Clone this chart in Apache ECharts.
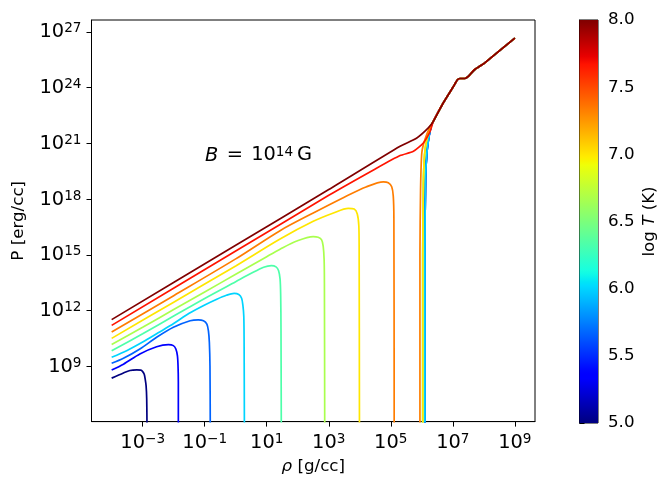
<!DOCTYPE html>
<html><head><meta charset="utf-8">
<script src="https://cdn.jsdelivr.net/npm/echarts@6/dist/echarts.min.js"></script>
<style>html,body{margin:0;padding:0;background:#fff}#c{width:664px;height:482px}</style>
</head><body><div id="c"></div>
<script>
// ---- data (log10 rho [g/cc], log10 P [erg/cc]) ----
const logT = [5.0, 5.333, 5.667, 6.0, 6.333, 6.667, 7.0, 7.333, 7.667, 8.0];

// low-density branches (ending in the vertical drop)
const rho50 = [-4.0, -3.62, -3.41, -3.19, -3.06, -3.0, -2.95, -2.92, -2.89, -2.87, -2.86];
const p50   = [8.36, 8.64, 8.77, 8.80, 8.79, 8.71, 8.57, 8.32, 7.96, 7.25, 5.5];
const rho53 = [-4.0, -3.62, -3.09, -2.55, -2.17, -2.01, -1.93, -1.88, -1.86, -1.85, -1.85];
const p53   = [8.80, 9.11, 9.66, 10.05, 10.16, 10.11, 9.93, 9.57, 9.03, 8.14, 5.5];
const rho57 = [-4.0, -3.62, -3.09, -2.55, -2.01, -1.47, -1.21, -1.04, -0.93, -0.88, -0.85, -0.83, -0.82];
const p57   = [9.16, 9.43, 9.93, 10.56, 11.10, 11.45, 11.50, 11.45, 11.27, 10.91, 10.29, 9.03, 5.5];
const rho60 = [-4.0, -3.5, -3.0, -2.5, -2.0, -1.5, -1.0, -0.61, -0.3, -0.05, 0.1, 0.19, 0.23, 0.26, 0.27, 0.28];
const p60   = [9.48, 9.85, 10.3, 10.8, 11.3, 11.85, 12.3, 12.61, 12.82, 12.92, 12.86, 12.66, 12.3, 11.7, 10.5, 5.5];
const rho63 = [-4.0, -3.0, -2.0, -1.0, 0.0, 0.5, 0.9, 1.15, 1.3, 1.38, 1.43, 1.45, 1.46, 1.47];
const p63   = [9.83, 10.75, 11.7, 12.65, 13.55, 14.0, 14.33, 14.42, 14.35, 14.15, 13.7, 12.8, 11.0, 5.5];
const rho67 = [-4.0, -3.0, -2.0, -1.0, 0.0, 1.0, 1.43, 1.97, 2.5, 2.66, 2.77, 2.82, 2.85, 2.86, 2.87];
const p67   = [10.17, 11.1, 12.05, 13.0, 13.95, 14.9, 15.3, 15.74, 15.98, 15.94, 15.80, 15.47, 14.76, 13.5, 5.5];
const rho70 = [-4.0, -2.0, 0.0, 1.43, 2.5, 3.15, 3.63, 3.82, 3.92, 3.97, 3.98, 3.99];
const p70   = [10.5, 12.45, 14.4, 15.85, 16.8, 17.25, 17.50, 17.46, 17.2, 16.55, 15.3, 5.5];
const rho73 = [-4.0, -2.0, 0.0, 1.43, 2.5, 3.5, 4.2, 4.76, 4.92, 5.03, 5.08, 5.10, 5.11];
const p73   = [10.84, 12.8, 14.78, 16.3, 17.25, 18.1, 18.65, 18.93, 18.88, 18.66, 18.16, 17.0, 5.5];

// high-density rises (before joining the degenerate branch)
const riseRhoCold = [6.10, 6.10, 6.12, 6.16, 6.22, 6.30];
const risePCold   = [5.5, 15.0, 19.0, 20.4, 21.25, 21.9];
const riseRhoMid  = [6.03, 6.03, 6.05, 6.09, 6.16, 6.28];
const risePMid    = [5.5, 15.0, 18.8, 20.4, 21.2, 21.9];
const riseRho73   = [5.94, 5.94, 5.96, 6.0, 6.1, 6.27];
const riseP73     = [5.5, 15.0, 18.5, 20.49, 21.2, 21.91];

// hot isotherms (continuous)
const rho77 = [-4.0, 0.0, 3.0, 4.5, 5.30, 5.73, 6.05, 6.27];
const p77   = [11.2, 15.2, 18.2, 19.62, 20.34, 20.57, 21.02, 21.65];
const rho80 = [-4.0, 0.0, 3.0, 5.30, 5.84, 6.21];
const p80   = [11.51, 15.51, 18.51, 20.84, 21.29, 21.83];

// shared degenerate branch
const degRho = [6.37, 6.69, 7.02, 7.15, 7.23, 7.39, 7.50, 7.61, 7.72, 7.82, 7.93, 8.04, 9.0];
const degP   = [22.18, 23.17, 24.06, 24.42, 24.49, 24.49, 24.60, 24.81, 24.99, 25.10, 25.22, 25.35, 26.66];

const xTicks = [-3, -1, 1, 3, 5, 7, 9];
const yTicks = [9, 12, 15, 18, 21, 24, 27];
const cbRange = [5, 8];

// ---- helpers ----
const F = 'DejaVu Sans';
function seg(t, pts) {
  for (let i = 0; i < pts.length - 1; i++) {
    const [a, va] = pts[i], [b, vb] = pts[i + 1];
    if (t >= a && t <= b) return va + (vb - va) * (t - a) / (b - a);
  }
  return pts[pts.length - 1][1];
}
function jet(t) {
  const r = seg(t, [[0,0],[0.35,0],[0.66,1],[0.89,1],[1,0.5]]);
  const g = seg(t, [[0,0],[0.125,0],[0.375,1],[0.64,1],[0.91,0],[1,0]]);
  const b = seg(t, [[0,0.5],[0.11,1],[0.34,1],[0.65,0],[1,0]]);
  return 'rgb(' + Math.round(r*255) + ',' + Math.round(g*255) + ',' + Math.round(b*255) + ')';
}
const zip = (xs, ys) => xs.map((x, i) => [x, ys[i]]);
const colorOf = lt => jet((lt - cbRange[0]) / (cbRange[1] - cbRange[0]));

const lows = [[rho50,p50],[rho53,p53],[rho57,p57],[rho60,p60],[rho63,p63],[rho67,p67],[rho70,p70],[rho73,p73]];
const rises = [[riseRhoCold,risePCold],[riseRhoCold,risePCold],[riseRhoCold,risePCold],[riseRhoCold,risePCold],
               [riseRhoMid,risePMid],[riseRhoMid,risePMid],[riseRhoMid,risePMid],[riseRho73,riseP73]];
const hots = [[rho77,p77],[rho80,p80]];

const LW = 1.7;
const series = [];
const lineBase = { type: 'line', xAxisIndex: 0, yAxisIndex: 0, symbol: 'none', showSymbol: false,
  clip: true, silent: true, animation: false, z: 3 };
logT.forEach((lt, i) => {
  const c = colorOf(lt);
  if (i < lows.length) {
    series.push(Object.assign({}, lineBase, { smooth: 0.3, data: zip(lows[i][0], lows[i][1]), lineStyle: { color: c, width: LW } }));
    series.push(Object.assign({}, lineBase, { smooth: 0.2, data: zip(rises[i][0].concat(degRho), rises[i][1].concat(degP)), lineStyle: { color: c, width: LW } }));
  } else {
    const h = hots[i - lows.length];
    series.push(Object.assign({}, lineBase, { smooth: 0.2, data: zip(h[0].concat(degRho), h[1].concat(degP)), lineStyle: { color: c, width: LW } }));
  }
});

const stops = [];
for (let k = 0; k <= 100; k++) stops.push({ offset: k / 100, color: jet(1 - k / 100) });
series.push({
  type: 'custom', xAxisIndex: 1, yAxisIndex: 1, silent: true, animation: false,
  data: [[0, cbRange[0], cbRange[1]]],
  renderItem: (params, api) => {
    const tl = api.coord([0, api.value(2)]);
    const br = api.coord([1, api.value(1)]);
    return { type: 'rect', shape: { x: tl[0], y: tl[1], width: br[0] - tl[0], height: br[1] - tl[1] },
      style: { fill: new echarts.graphic.LinearGradient(0, 0, 0, 1, stops) } };
  }
});

const supRich = {
  b: { fontSize: 19.4, fontFamily: F, color: '#000', lineHeight: 20, verticalAlign: 'bottom' },
  s: { fontSize: 13.6, fontFamily: F, color: '#000', lineHeight: 9.6, verticalAlign: 'top' }
};
const powFmt = v => '{b|10}{s|' + (v < 0 ? '\u2212' + Math.abs(v) : String(v)) + '}';
const tickStyle = { show: true, length: 5, inside: false, lineStyle: { color: '#000', width: 1 } };

const option = {
  animation: false,
  backgroundColor: '#fff',
  grid: [
    { left: 91.5, top: 20, width: 443.5, height: 403, show: true, borderColor: '#000', borderWidth: 1, backgroundColor: 'transparent', containLabel: false },
    { left: 579.5, top: 20, width: 18.5, height: 403, show: true, borderColor: '#000', borderWidth: 1, containLabel: false }
  ],
  xAxis: [
    { gridIndex: 0, type: 'value', min: -4.65, max: 9.65,
      axisLine: { show: true, onZero: false, lineStyle: { color: '#000', width: 1 } },
      axisTick: Object.assign({ customValues: xTicks }, tickStyle),
      axisLabel: { customValues: xTicks, formatter: powFmt, rich: supRich, margin: 10.5, fontFamily: F, color: '#000' },
      splitLine: { show: false },
      name: '{i|\u03c1} [g/cc]', nameLocation: 'middle', nameGap: 35,
      nameTextStyle: { fontSize: 16.7, fontFamily: F, color: '#000', lineHeight: 20,
        rich: { i: { fontSize: 16.7, fontFamily: F, fontStyle: 'italic', color: '#000', lineHeight: 20 } } } },
    { gridIndex: 1, type: 'value', min: 0, max: 1, show: false }
  ],
  yAxis: [
    { gridIndex: 0, type: 'value', min: 6.02, max: 27.64,
      axisLine: { show: true, onZero: false, lineStyle: { color: '#000', width: 1 } },
      axisTick: Object.assign({ customValues: yTicks }, tickStyle),
      axisLabel: { customValues: yTicks, formatter: powFmt, rich: supRich, margin: 10, fontFamily: F, color: '#000' },
      splitLine: { show: false },
      name: 'P [erg/cc]', nameLocation: 'middle', nameGap: 61, nameRotate: 90,
      nameTextStyle: { fontSize: 16.7, fontFamily: F, color: '#000', lineHeight: 20 } },
    { gridIndex: 1, type: 'value', min: cbRange[0], max: cbRange[1], interval: 0.5, position: 'right',
      axisLine: { show: true, lineStyle: { color: '#000', width: 1 } },
      axisTick: tickStyle,
      axisLabel: { formatter: v => v.toFixed(1), fontSize: 16.7, fontFamily: F, color: '#000', margin: 10 },
      splitLine: { show: false },
      name: 'log {i|T} (K)', nameLocation: 'middle', nameGap: 42, nameRotate: 90,
      nameTextStyle: { fontSize: 16.7, fontFamily: F, color: '#000', lineHeight: 20,
        rich: { i: { fontSize: 16.7, fontFamily: F, fontStyle: 'italic', color: '#000', lineHeight: 20 } } } }
  ],
  graphic: [
    { type: 'text', left: 205, top: 145, silent: true, z: 10,
      style: { text: '{i|B}\u2004\u200a=\u2004\u200a10{s|14}\u2009G', fill: '#000', font: '19.4px "DejaVu Sans"',
        rich: {
          i: { fontSize: 19.4, fontFamily: F, fontStyle: 'italic', lineHeight: 20, verticalAlign: 'bottom' },
          s: { fontSize: 13.6, fontFamily: F, lineHeight: 9, verticalAlign: 'top' }
        } } }
  ],
  series: series
};
const chart = echarts.init(document.getElementById('c'), null, { renderer: 'canvas' });
chart.setOption(option);
</script>
</body></html>
